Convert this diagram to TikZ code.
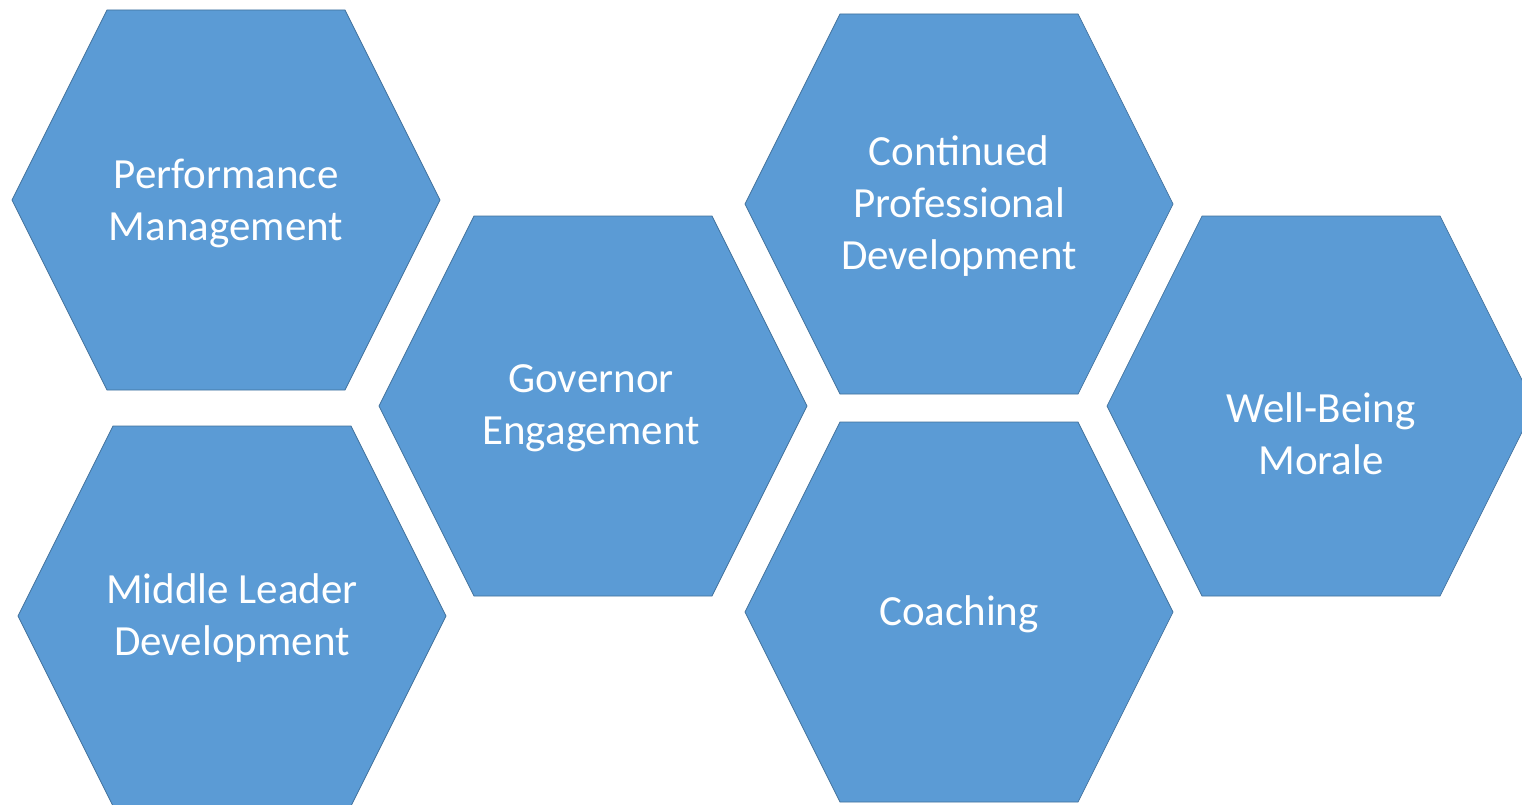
\documentclass[tikz,border=0pt]{standalone}
\usepackage{fontspec}
\setmainfont{Carlito}
\usepackage{tikz}
\usetikzlibrary{calc}

\definecolor{hexblue}{HTML}{5B9BD5}
\definecolor{hexedge}{HTML}{41719C}

\tikzset{
  hexfill/.style={fill=hexblue, draw=hexedge, line width=0.7pt},
  hexlabel/.style={text=white, align=center, inner sep=0pt,
    font=\fontsize{43}{52}\selectfont}
}

% hexagon round a centre coordinate named #1-c
\newcommand{\hexcell}[3]{%
  \coordinate (#1-c) at (#2,#3);
  \draw[hexfill] ($(#1-c)+(-214,0)$) -- ($(#1-c)+(-119,-190)$)
    -- ($(#1-c)+(119,-190)$) -- ($(#1-c)+(214,0)$)
    -- ($(#1-c)+(119,190)$) -- ($(#1-c)+(-119,190)$) -- cycle;
}

\begin{document}
\begin{tikzpicture}[x=1pt,y=-1pt]
\useasboundingbox (0,0) rectangle (1522,805);
\clip (0,0) rectangle (1522,805);

\hexcell{perf}{226}{200}
\hexcell{gov}{593}{406}
\hexcell{mid}{232}{616}
\hexcell{cpd}{959}{204}
\hexcell{coach}{959}{612}
\hexcell{well}{1321}{406}

\node[hexlabel] (perf) at (226,203) {Performance\\Management};
\node[hexlabel] (gov) at (591,408) {Governor\\Engagement};
\node[hexlabel] (mid) at (232,618) {Middle Leader\\Development};
\node[hexlabel] (cpd) at (959,206) {Continued\\Professional\\Development};
\node[hexlabel] (coach) at (959,614) {Coaching};
\node[hexlabel] (well) at (1321,434) {Well-Being\\Morale};
\end{tikzpicture}
\end{document}
